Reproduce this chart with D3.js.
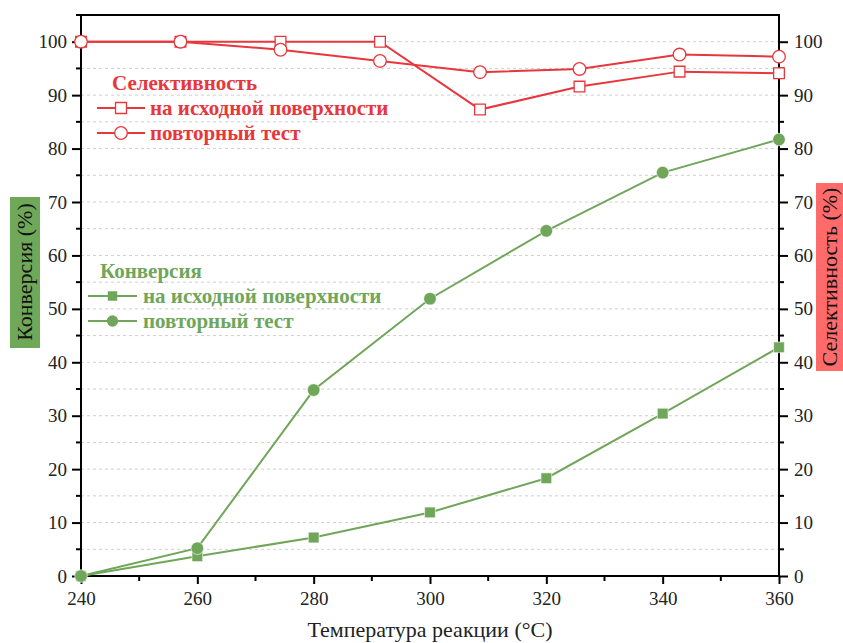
<!DOCTYPE html>
<html>
<head>
    <meta charset="utf-8" />
    <title></title>
    <style>
        body { margin: 0; background: #fff; }
    </style>
</head>
<body>
    <div id="chart"></div>
    <script src="https://cdn.jsdelivr.net/npm/d3@7/dist/d3.min.js"></script>
    <script>
        // conversion (left axis)
        var convTemps = [240, 260, 280, 300, 320, 340, 360];
        var convFresh = [0, 3.7, 7.2, 11.9, 18.3, 30.4, 42.8];
        var convRetest = [0, 5.2, 34.8, 51.9, 64.6, 75.5, 81.7];

        // selectivity (right axis)
        var selTemps = [240, 257.1, 274.3, 291.4, 308.6, 325.7, 342.9, 360];
        var selFresh = [100, 100, 100, 100, 87.3, 91.6, 94.4, 94.1];
        var selRetest = [100, 100, 98.5, 96.4, 94.3, 94.9, 97.6, 97.2];

        var xTicks = [240, 260, 280, 300, 320, 340, 360];
        var yTicks = [0, 10, 20, 30, 40, 50, 60, 70, 80, 90, 100];

        var red = "#e8373c";
        var green = "#70a65a";
        var serif = "Liberation Serif";

        var width = 843, height = 643;
        var svg = d3.select("#chart").append("svg")
            .attr("width", width)
            .attr("height", height);

        var x = d3.scaleLinear().domain([240, 360]).range([81, 779]);
        var y = d3.scaleLinear().domain([0, 105]).range([576, 15]);

        // grid every 5
        svg.append("g")
            .selectAll("line")
            .data(d3.range(5, 101, 5))
            .join("line")
            .attr("x1", x(240)).attr("x2", x(360))
            .attr("y1", d => y(d)).attr("y2", d => y(d))
            .attr("stroke", "#cfcfcf")
            .attr("stroke-width", 1)
            .attr("stroke-dasharray", "3,3");

        // axes
        var leftAxis = d3.axisLeft(y).tickValues(yTicks).tickSize(9).tickPadding(5).tickFormat(d3.format("d"));
        var rightAxis = d3.axisRight(y).tickValues(yTicks).tickSize(9).tickPadding(6).tickFormat(d3.format("d"));
        var bottomAxis = d3.axisBottom(x).tickValues(xTicks).tickSize(8).tickPadding(8).tickFormat(d3.format("d"));

        function styleAxis(g, axis) {
            g.call(axis);
            g.attr("font-family", serif);
            g.select(".domain").remove();
            g.selectAll("line").attr("stroke", "#000").attr("stroke-width", 2);
            g.selectAll("text").attr("font-size", 19).attr("fill", "#222")
                .attr("font-family", serif);
        }

        svg.append("g").attr("transform", "translate(" + x(240) + ",0)")
            .call(g => styleAxis(g, leftAxis));
        svg.append("g").attr("transform", "translate(" + x(360) + ",0)")
            .call(g => styleAxis(g, rightAxis));
        svg.append("g").attr("transform", "translate(0," + y(0) + ")")
            .call(g => styleAxis(g, bottomAxis));

        // minor ticks
        var minorY = d3.range(5, 101, 10);
        svg.append("g").selectAll("line").data(minorY).join("line")
            .attr("x1", x(240) - 5).attr("x2", x(240))
            .attr("y1", d => y(d)).attr("y2", d => y(d))
            .attr("stroke", "#000").attr("stroke-width", 2);
        svg.append("g").selectAll("line").data(minorY).join("line")
            .attr("x1", x(360)).attr("x2", x(360) + 5)
            .attr("y1", d => y(d)).attr("y2", d => y(d))
            .attr("stroke", "#000").attr("stroke-width", 2);
        svg.append("g").selectAll("line").data(d3.range(250, 360, 20)).join("line")
            .attr("x1", d => x(d)).attr("x2", d => x(d))
            .attr("y1", y(0)).attr("y2", y(0) + 5)
            .attr("stroke", "#000").attr("stroke-width", 2);

        // frame
        svg.append("line").attr("x1", x(240) - 5).attr("x2", x(360) + 1)
            .attr("y1", y(105)).attr("y2", y(105))
            .attr("stroke", "#000").attr("stroke-width", 2);
        svg.append("line").attr("x1", x(240) - 1).attr("x2", x(360) + 1)
            .attr("y1", y(0)).attr("y2", y(0))
            .attr("stroke", "#000").attr("stroke-width", 2);
        svg.append("line").attr("x1", x(240)).attr("x2", x(240))
            .attr("y1", y(105)).attr("y2", y(0))
            .attr("stroke", "#000").attr("stroke-width", 2);
        svg.append("line").attr("x1", x(360)).attr("x2", x(360))
            .attr("y1", y(105)).attr("y2", y(0))
            .attr("stroke", "#000").attr("stroke-width", 2);

        var line = d3.line().x(d => x(d[0])).y(d => y(d[1]));

        function drawSeries(temps, vals, color, shape, filled) {
            var pts = temps.map((t, i) => [t, vals[i]]);
            svg.append("path").datum(pts)
                .attr("d", line)
                .attr("fill", "none")
                .attr("stroke", color)
                .attr("stroke-width", 2);
            var sym = d3.symbol().type(shape === "square" ? d3.symbolSquare : d3.symbolCircle)
                .size(shape === "square" ? 115 : 125);
            svg.append("g").selectAll("path").data(pts).join("path")
                .attr("d", sym)
                .attr("transform", d => "translate(" + x(d[0]) + "," + y(d[1]) + ")")
                .attr("fill", filled ? color : "#fff")
                .attr("stroke", filled ? "#fff" : color)
                .attr("stroke-width", filled ? 0.6 : 1.3);
        }

        drawSeries(convTemps, convFresh, green, "square", true);
        drawSeries(convTemps, convRetest, green, "circle", true);
        drawSeries(selTemps, selFresh, red, "square", false);
        drawSeries(selTemps, selRetest, red, "circle", false);

        // legends
        function legend(x0, y0, title, color, filled, lx1, lx2, tx) {
            var g = svg.append("g").attr("font-family", serif);
            g.append("text").attr("x", x0).attr("y", y0 + 7)
                .attr("font-size", 21).attr("font-weight", "bold")
                .attr("font-family", serif)
                .attr("fill", color).text(title);
            var rows = [["square", "на исходной поверхности"], ["circle", "повторный тест"]];
            rows.forEach(function (r, i) {
                var yy = y0 + 25 + i * 25;
                g.append("line").attr("x1", lx1).attr("x2", lx2)
                    .attr("y1", yy).attr("y2", yy)
                    .attr("stroke", color).attr("stroke-width", 2);
                var sym = d3.symbol().type(r[0] === "square" ? d3.symbolSquare : d3.symbolCircle)
                    .size(r[0] === "square" ? (filled ? 90 : 120) : (filled ? 100 : 125));
                g.append("path").attr("d", sym)
                    .attr("transform", "translate(" + ((lx1 + lx2) / 2) + "," + yy + ")")
                    .attr("fill", filled ? color : "#fff")
                    .attr("stroke", filled ? "none" : color)
                    .attr("stroke-width", 1.3);
                g.append("text").attr("x", tx).attr("y", yy + 7)
                    .attr("font-size", 21).attr("font-weight", "bold")
                    .attr("font-family", serif)
                    .attr("fill", color).text(r[1]);
            });
        }
        legend(112, 83, "Селективность", red, false, 97, 145, 150);
        legend(100, 271, "Конверсия", green, true, 88, 137, 143);

        // axis titles
        svg.append("text").attr("x", x(300)).attr("y", 637)
            .attr("text-anchor", "middle").attr("font-size", 22)
            .attr("font-family", serif)
            .attr("fill", "#222").text("Температура реакции (°C)");

        svg.append("rect").attr("x", 10).attr("y", 197).attr("width", 30).attr("height", 151)
            .attr("fill", "#6fa858");
        svg.append("text").attr("transform", "translate(32,272) rotate(-90)")
            .attr("text-anchor", "middle").attr("font-size", 22)
            .attr("font-family", serif)
            .attr("fill", "#111").text("Конверсия (%)");

        svg.append("rect").attr("x", 816).attr("y", 183).attr("width", 27).attr("height", 188)
            .attr("fill", "#ff6a6a");
        svg.append("text").attr("transform", "translate(837,277) rotate(-90)")
            .attr("text-anchor", "middle").attr("font-size", 22)
            .attr("font-family", serif)
            .attr("fill", "#111").text("Селективность (%)");
    </script>
</body>
</html>
